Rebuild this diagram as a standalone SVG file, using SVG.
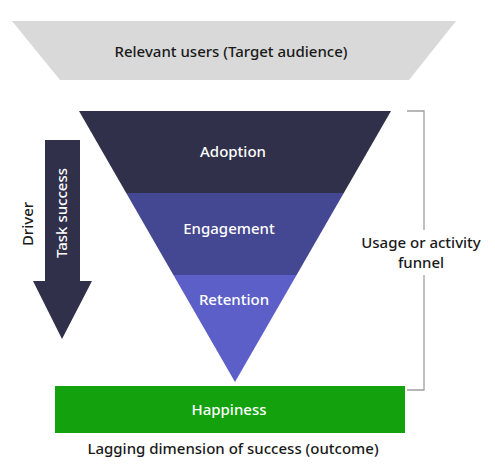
<svg xmlns="http://www.w3.org/2000/svg" width="495" height="475" viewBox="0 0 495 475">
<style>
text{font-family:"Noto Sans","Open Sans","Liberation Sans",sans-serif;font-size:15px;font-weight:500;text-anchor:middle}
.w{fill:#ffffff}
.d{fill:#1a1a1a}
.br{fill:none;stroke:#a0a0a0;stroke-width:1.3}
</style>
<rect width="495" height="475" fill="#ffffff"/>
<g id="target-audience">
<polygon points="12,21 456,21 409,80 60,80" fill="#d9d9d9"/>
<text class="d" x="231" y="57">Relevant users (Target audience)</text>
</g>
<g id="adoption">
<polygon points="79,111 391,111 343.8,193 126.2,193" fill="#30304b"/>
<text class="w" x="233" y="157">Adoption</text>
</g>
<g id="engagement">
<polygon points="126.2,193 343.8,193 296.6,275 173.4,275" fill="#444791"/>
<text class="w" x="229" y="234">Engagement</text>
</g>
<g id="retention">
<polygon points="173.4,275 296.6,275 235,382" fill="#5b5fc7"/>
<text class="w" x="234" y="305">Retention</text>
</g>
<g id="task-success">
<polygon points="45,140 80,140 80,281 92,281 62,339 33,281 45,281" fill="#30304b"/>
<text class="w" transform="translate(67,213) rotate(-90)">Task success</text>
</g>
<g id="driver">
<text class="d" transform="translate(33,224) rotate(-90)">Driver</text>
</g>
<g id="happiness">
<rect x="55" y="386" width="350" height="47" fill="#13a10e"/>
<text class="w" x="229" y="415">Happiness</text>
</g>
<g id="outcome-label">
<text class="d" x="233" y="454">Lagging dimension of success (outcome)</text>
</g>
<g id="connectors">
<polyline class="br" points="407,111 424,111 424,230"/>
<polyline class="br" points="424,275 424,390 407,390"/>
</g>
<g id="usage-label">
<text class="d" x="421" y="248">Usage or activity</text>
<text class="d" x="421" y="268">funnel</text>
</g>
</svg>
